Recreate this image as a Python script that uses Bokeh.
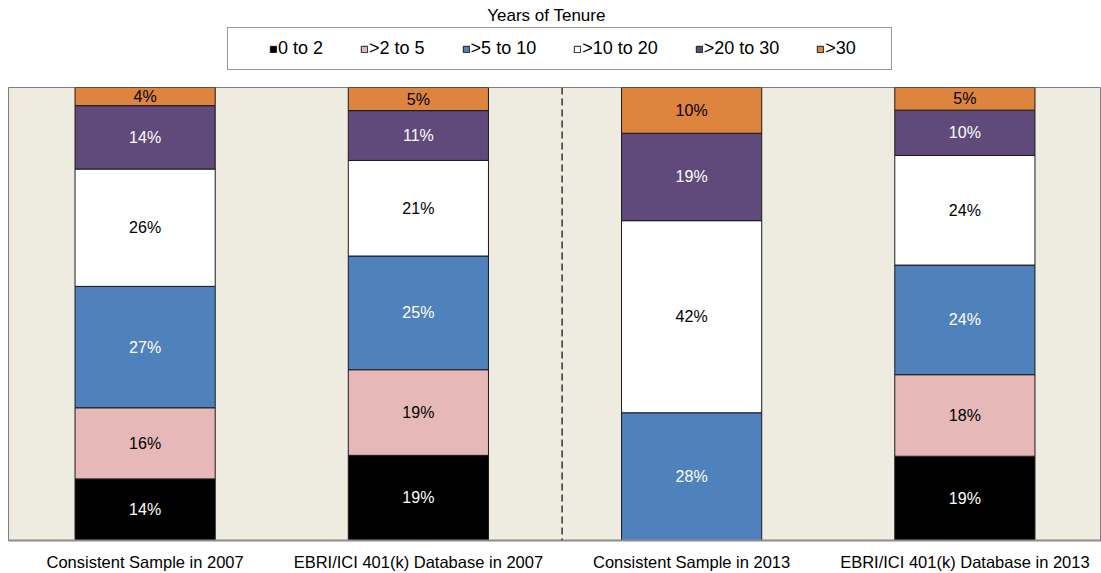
from bokeh.plotting import figure
from bokeh.layouts import column
from bokeh.models import ColumnDataSource, Legend, LegendItem, Span, FixedTicker, Label
from bokeh.core.properties import value
from bokeh.embed import file_html
from bokeh.resources import INLINE

# ---- data -------------------------------------------------------------
categories = ["Consistent Sample in 2007", "EBRI/ICI 401(k) Database in 2007",
              "Consistent Sample in 2013", "EBRI/ICI 401(k) Database in 2013"]
tenure_groups = ["0 to 2", ">2 to 5", ">5 to 10", ">10 to 20", ">20 to 30", ">30"]
share_0_2 = [13.6, 18.8, 0.0, 18.6]
share_2_5 = [15.7, 18.9, 0.0, 18.0]
share_5_10 = [26.8, 25.1, 28.2, 24.2]
share_10_20 = [25.9, 21.1, 42.4, 24.2]
share_20_30 = [14.0, 11.0, 19.3, 10.0]
share_30 = [4.0, 5.1, 10.1, 5.0]
legend_title = "Years of Tenure"

# ---- style ------------------------------------------------------------
FONT = "Liberation Sans"
fill_colors = ["#000000", "#E6B9B8", "#4F81BD", "#FFFFFF", "#604A7B", "#DD843F"]
text_colors = ["#FFFFFF", "#000000", "#FFFFFF", "#000000", "#FFFFFF", "#000000"]
OUTLINE = "#1A1A1A"

series = [share_0_2, share_2_5, share_5_10, share_10_20, share_20_30, share_30]
keys = ["s0", "s1", "s2", "s3", "s4", "s5"]
xs = list(range(len(categories)))
data = {"x": xs}
for k, s in zip(keys, series):
    data[k] = s
source = ColumnDataSource(data)

# ---- main chart -------------------------------------------------------
p = figure(width=1101, height=486, x_range=(-0.5, 3.5), y_range=(0, 100),
           output_backend="svg", toolbar_location=None, y_axis_location=None,
           title_location=None,
           min_border_left=8, min_border_right=0, min_border_top=0, min_border_bottom=31,
           background_fill_color="#EEEBE0", border_fill_color="#FFFFFF",
           outline_line_color="#808080", outline_line_width=1)
p.grid.visible = False

renderers = p.vbar_stack(keys, x="x", width=0.513, source=source,
                         fill_color=fill_colors, line_color=OUTLINE, line_width=1)

# labels in the middle of each segment
lx, ly, lt, lc = [], [], [], []
for i in range(len(categories)):
    base = 0.0
    for j, s in enumerate(series):
        v = s[i]
        if v > 0:
            lx.append(xs[i])
            ly.append(base + v / 2)
            lt.append(f"{round(v)}%")
            lc.append(text_colors[j])
        base += v
p.text(x=lx, y=ly, text=lt, text_color=lc, text_align="center", text_baseline="middle",
       text_font=value(FONT), text_font_size="16px")

# dashed divider between 2007 and 2013
p.add_layout(Span(location=1.526, dimension="height", line_color="#333333",
                  line_width=1.5, line_dash="7 4"))

# x axis
ax = p.xaxis[0]
ax.ticker = FixedTicker(ticks=xs)
ax.major_label_overrides = {x: c for x, c in zip(xs, categories)}
ax.major_tick_line_color = None
ax.minor_tick_line_color = None
ax.major_tick_out = 0
ax.major_tick_in = 0
ax.minor_tick_out = 0
ax.minor_tick_in = 0
ax.axis_line_color = "#8C8C8C"
ax.axis_line_width = 2
ax.major_label_standoff = 12
ax.major_label_text_line_height = 1.0
ax.major_label_text_font = FONT
ax.major_label_text_font_size = "16.5px"
ax.major_label_text_color = "#000000"

# ---- header with title and legend -------------------------------------
h = figure(width=1101, height=87, x_range=(0, 1), y_range=(0, 1),
           output_backend="svg", toolbar_location=None,
           x_axis_location=None, y_axis_location=None, title_location=None,
           min_border_left=0, min_border_right=0, min_border_top=0, min_border_bottom=0,
           outline_line_color=None, background_fill_color="#FFFFFF",
           border_fill_color="#FFFFFF")
h.grid.visible = False

# legend proxies: one point each, lying outside the header's visible range
proxies = [h.vbar(x=[-5], top=[0], width=0.1, fill_color=c, line_color=OUTLINE, line_width=1)
           for c in fill_colors]
spacer = h.vbar(x=[-5], top=[0], width=0.1, fill_alpha=0, line_alpha=0)
nb = "\u00a0"
items = [LegendItem(label=nb * 2, renderers=[spacer])]
for j, (g, r) in enumerate(zip(tenure_groups, proxies)):
    pad = nb * (7 if j < len(tenure_groups) - 1 else 5)
    items.append(LegendItem(label=g + pad, renderers=[r]))
legend = Legend(items=items, orientation="horizontal", location=(219, 17),
                glyph_width=8, glyph_height=8, label_standoff=1, spacing=2,
                padding=10, margin=0, label_height=17,
                border_line_color="#333333", border_line_width=1,
                label_text_font=FONT, label_text_font_size="18px",
                label_text_color="#000000", label_text_baseline="middle")
h.add_layout(legend, "center")

h.add_layout(Label(x=538, y=72, x_units="screen", y_units="screen",
                   text=legend_title, text_align="center", text_baseline="middle",
                   text_font=FONT, text_font_size="17px", text_color="#000000"))

layout = column(h, p, spacing=0)
open("out.html", "w").write(file_html(layout, INLINE))
